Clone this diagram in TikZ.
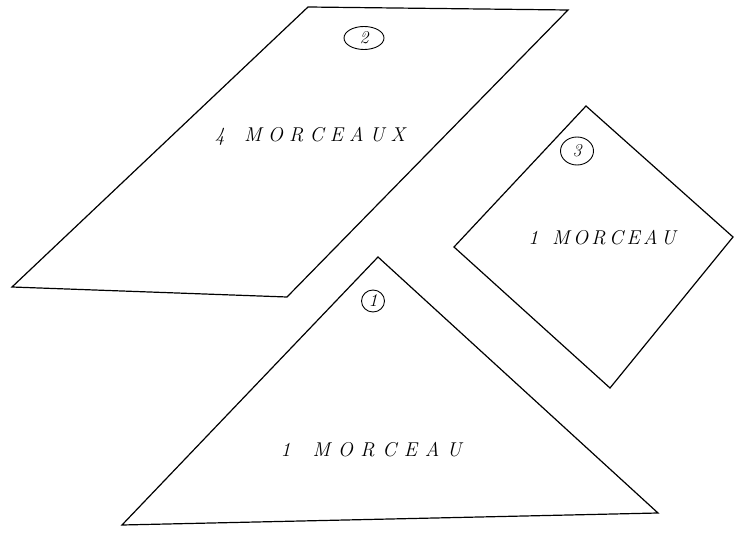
\documentclass[tikz,border=0pt]{standalone}
\usepackage{fontspec}
\usetikzlibrary{shapes.geometric}
% letters pushed apart, as in the hand lettering
\newcommand{\spreadtext}[2]{\def\spreadgap{\hskip#1\relax}\spreadfirst#2\relax}
\def\spreadfirst#1{#1\spreadnext}
\def\spreadnext#1{\ifx#1\relax\else\spreadgap#1\expandafter\spreadnext\fi}

\begin{document}
\begin{tikzpicture}[
  x=1pt, y=-1pt,
  piece/.style={line width=1.2pt, line join=miter},
  piecetext/.style={font=\itshape\fontsize{20}{22}\selectfont, inner sep=0pt},
  numtag/.style={draw, ellipse, line width=0.9pt, inner sep=0pt,
    font=\itshape\fontsize{18}{18}\selectfont},
]
\useasboundingbox (0,0) rectangle (736,537);

% ---------- PIECE 2: PARALLELOGRAM ----------
\coordinate (pa) at (12,287);
\coordinate (pb) at (287,297);
\coordinate (pc) at (568,10);
\coordinate (pd) at (308,7);
\draw[piece] (pa) -- (pb) -- (pc) -- (pd) -- cycle;
\node[numtag, minimum width=40pt, minimum height=23pt] (tag2) at (364,38) {2};
\node[piecetext] (txt2) at (310,136) {\spreadtext{6.2pt}{4~MORCEAUX}};

% ---------- PIECE 3: SQUARE ----------
\coordinate (sa) at (586,106);
\coordinate (sb) at (733,237);
\coordinate (sc) at (610,388);
\coordinate (sd) at (454,247);
\draw[piece] (sa) -- (sb) -- (sc) -- (sd) -- cycle;
\node[numtag, minimum width=33pt, minimum height=28pt] (tag3) at (577,151) {3};
\node[piecetext] (txt3) at (602,238) {\spreadtext{3.4pt}{1~MORCEAU}};

% ---------- PIECE 1: TRIANGLE ----------
\coordinate (ta) at (378,257);
\coordinate (tb) at (658,513);
\coordinate (tc) at (122,525);
\draw[piece] (ta) -- (tb) -- (tc) -- cycle;
\node[numtag, minimum width=23pt, minimum height=22pt] (tag1) at (373,301) {1};
\node[piecetext] (txt1) at (371,450) {\spreadtext{7.6pt}{1~MORCEAU}};

\end{tikzpicture}
\end{document}
